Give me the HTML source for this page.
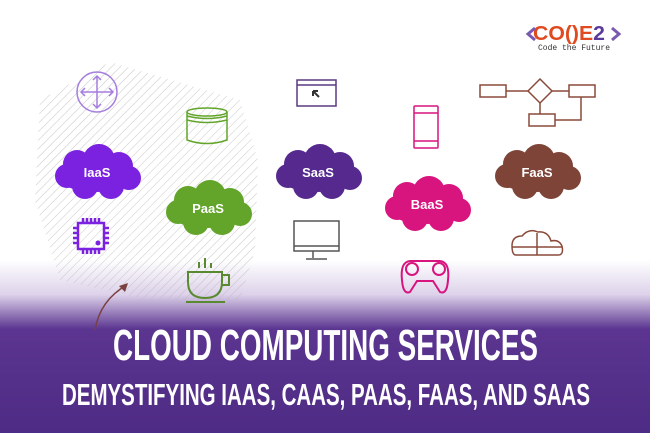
<!DOCTYPE html><html><head><style>body{margin:0}svg{display:block}</style></head><body>
<svg width="650" height="433" viewBox="0 0 650 433" xmlns="http://www.w3.org/2000/svg">
<defs>
<linearGradient id="bg" x1="0" y1="0" x2="0" y2="1">
<stop offset="0" stop-color="#fff"/><stop offset="0.6" stop-color="#fff"/><stop offset="0.68" stop-color="#ddd2ea"/><stop offset="0.76" stop-color="#5b3590"/><stop offset="1" stop-color="#4e2b84"/></linearGradient>
<pattern id="hatch" width="6" height="6" patternUnits="userSpaceOnUse" patternTransform="rotate(45)"><line x1="0" y1="0" x2="0" y2="6" stroke="#bbb" stroke-width="1"/></pattern>
<g id="cloud"><ellipse cx="0" cy="4" rx="40" ry="16"/><circle cx="-20" cy="-8" r="14"/><circle cx="2" cy="-12" r="16"/><circle cx="22" cy="-6" r="14"/><circle cx="-30" cy="4" r="12"/><circle cx="32" cy="6" r="12"/><circle cx="-12" cy="14" r="13"/><circle cx="14" cy="14" r="13"/></g>
</defs>
<rect width="650" height="433" fill="url(#bg)"/>
<path d="M40 100 L110 62 L240 100 L258 160 L255 250 L240 300 L150 300 L60 280 L35 200 Z" fill="url(#hatch)" opacity="0.8"/>
<path d="M95 330 Q100 300 127 285" fill="none" stroke="#7a4040" stroke-width="1.5"/><path d="M128 283 L119 286 L125 292Z" fill="#7a4040"/>
<g fill="#7a22e0" transform="translate(97,172)"><use href="#cloud"/></g>
<g fill="#62a52a" transform="translate(208,208)"><use href="#cloud"/></g>
<g fill="#55298d" transform="translate(318,172)"><use href="#cloud"/></g>
<g fill="#d8147f" transform="translate(427,204)"><use href="#cloud"/></g>
<g fill="#7e4438" transform="translate(537,172)"><use href="#cloud"/></g>
<g font-family="Liberation Sans, sans-serif" font-weight="bold" font-size="13" fill="#fff" text-anchor="middle">
<text x="97" y="177">IaaS</text><text x="208" y="213">PaaS</text><text x="318" y="177">SaaS</text><text x="427" y="209">BaaS</text><text x="537" y="177">FaaS</text></g>
<g fill="none" stroke="#a57ee0" stroke-width="1.5"><circle cx="97" cy="92" r="20"/><path d="M97 76V108M81 92H113M93 80L97 76L101 80M93 104L97 108L101 104M85 88L81 92L85 96M109 88L113 92L109 96"/></g>
<g fill="none" stroke="#62a52a" stroke-width="1.5"><ellipse cx="207" cy="112" rx="20" ry="4"/><path d="M187 112V140Q207 147 227 140V112M187 116Q207 121 227 116M187 120Q207 125 227 120"/></g>
<g fill="none" stroke="#7a22e0" stroke-width="2.5"><rect x="78" y="223" width="26" height="26"/><path d="M83 218V222M87 218V222M91 218V222M95 218V222M99 218V222M83 250V254M87 250V254M91 250V254M95 250V254M99 250V254M73 228H77M73 233H77M73 238H77M73 243H77M105 228H109M105 233H109M105 238H109M105 243H109"/></g><circle cx="98" cy="243" r="2.5" fill="#7a22e0"/>
<g fill="none" stroke="#5a8a30" stroke-width="2"><path d="M188 272H222V282Q222 298 205 298Q188 298 188 282Z M222 275H229V285H221 M186 302H225 M199 268V262M205 268V258M211 268V263"/></g>
<g fill="none" stroke="#5a3a80" stroke-width="1.5"><rect x="297" y="80" width="39" height="26"/><path d="M297 85H336"/></g><path d="M313 91L319 97M313 91V96M313 91H318" stroke="#333" stroke-width="2"/>
<g fill="none" stroke="#d8147f" stroke-width="1.5"><rect x="414" y="106" width="24" height="42" rx="1"/><path d="M414 113H438M414 141H438"/></g>
<g fill="none" stroke="#555" stroke-width="1.5"><rect x="294" y="221" width="45" height="30"/><path d="M294 246H339M313 251V258M306 259H327"/></g>
<g fill="none" stroke="#d8147f" stroke-width="2"><path d="M410 261Q400 262 402 280Q403 295 410 292L417 281H433L440 292Q447 295 448 280Q450 262 440 261Z"/><circle cx="412" cy="269" r="6"/><circle cx="439" cy="269" r="6"/></g>
<g fill="none" stroke="#8a4a3a" stroke-width="1.5"><rect x="480" y="85" width="26" height="12"/><path d="M540 79L552 91L540 103L528 91Z"/><rect x="569" y="85" width="26" height="12"/><rect x="529" y="114" width="26" height="12"/><path d="M506 91H528M552 91H569M540 103V114M555 120H581V97"/></g>
<g fill="none" stroke="#8a4a3a" stroke-width="1.5"><path d="M516 255H558Q564 255 562 246Q559 239 551 241Q548 231 538 232Q529 228 522 236Q512 236 512 246Q512 255 516 255ZM512 247H562M537 233V255"/></g>
<text x="533" y="40" font-family="Liberation Sans, sans-serif" font-weight="bold" font-size="20" fill="#e04a20" textLength="72" lengthAdjust="spacingAndGlyphs">CO()E<tspan fill="#5a3a9a">2</tspan></text>
<path d="M535 28L528 34L535 40M612 28L619 34L612 40" stroke="#7a5ab0" stroke-width="3" fill="none"/>
<text x="538" y="50" font-family="Liberation Mono, monospace" font-size="8" fill="#333">Code the Future</text>
<g font-family="Liberation Sans Narrow, Liberation Sans, sans-serif" font-weight="bold" fill="#fff">
<text x="113" y="360" font-size="44" textLength="425" lengthAdjust="spacingAndGlyphs">CLOUD COMPUTING SERVICES</text>
<text x="62" y="405" font-size="31" textLength="528" lengthAdjust="spacingAndGlyphs">DEMYSTIFYING IAAS, CAAS, PAAS, FAAS, AND SAAS</text></g>
</svg></body></html>
